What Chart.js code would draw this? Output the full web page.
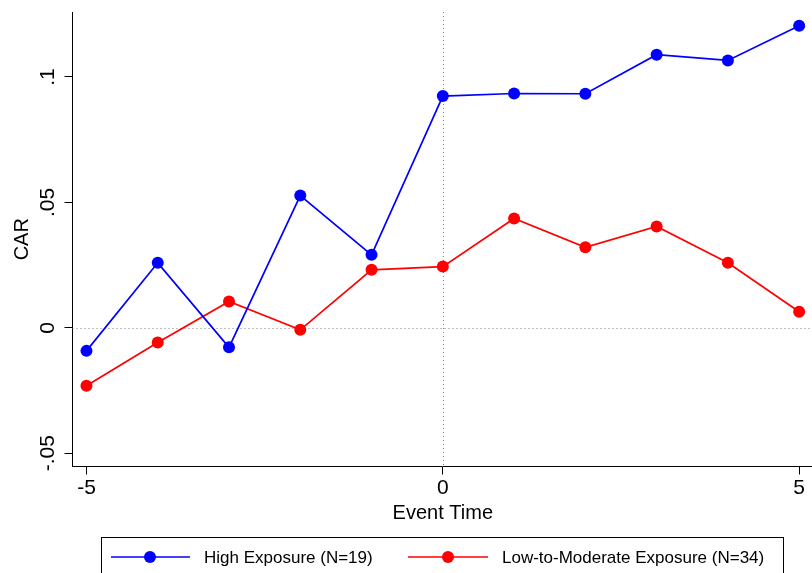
<!DOCTYPE html>
<html>
<head>
<meta charset="utf-8">
<title>CAR by Event Time</title>
<script src="https://cdn.jsdelivr.net/npm/chart.js@4"></script>
<style>
  html, body { margin: 0; padding: 0; background: #fff; }
  #wrap { width: 812px; height: 573px; overflow: hidden; }
  canvas { display: block; }
</style>
</head>
<body>
<div id="wrap"><canvas id="car" width="812" height="573"></canvas></div>
<script>
// Event window and cumulative abnormal returns by exposure group
const eventTime = [-5, -4, -3, -2, -1, 0, 1, 2, 3, 4, 5];
const highExposure = [-0.0092, 0.0259, -0.0078, 0.0527, 0.0291, 0.0924, 0.0934, 0.0933, 0.1089, 0.1066, 0.1204];
const lowModerateExposure = [-0.0231, -0.0059, 0.0105, -0.0008, 0.0231, 0.0244, 0.0436, 0.0321, 0.0404, 0.0259, 0.0064];

const seriesLabels = ['High Exposure (N=19)', 'Low-to-Moderate Exposure (N=34)'];
const xTickValues = [-5, 0, 5];
const yTickValues = [-0.05, 0, 0.05, 0.1];
const yTickLabels = ['-.05', '0', '.05', '.1'];
const xTitle = 'Event Time';
const yTitle = 'CAR';

const FONT = '"Liberation Sans", Arial, Helvetica, sans-serif';
const BLUE = 'rgb(0,0,255)';
const RED = 'rgb(255,0,0)';

const toPoints = vals => eventTime.map((t, i) => ({ x: t, y: vals[i] }));

// Dotted reference lines at event time 0 and CAR = 0
const refLines = {
  id: 'refLines',
  beforeDatasetsDraw(chart) {
    const { ctx, chartArea: a, scales: { x, y } } = chart;
    ctx.save();
    ctx.strokeStyle = '#808080';
    ctx.lineWidth = 1;
    ctx.setLineDash([1, 3]);
    const px = Math.round(x.getPixelForValue(0)) + 0.5;
    const py = Math.round(y.getPixelForValue(0)) + 0.5;
    ctx.beginPath();
    ctx.moveTo(px, a.top); ctx.lineTo(px, a.bottom);
    ctx.moveTo(a.left, py); ctx.lineTo(a.right, py);
    ctx.stroke();
    ctx.restore();
  }
};

// Rotated y tick labels, axis titles and the boxed legend
const annotations = {
  id: 'annotations',
  afterDraw(chart) {
    const { ctx, chartArea: a, scales: { y } } = chart;
    ctx.save();
    ctx.fillStyle = '#000';

    // y tick labels, reading bottom to top
    ctx.font = '21px ' + FONT;
    ctx.textAlign = 'center';
    ctx.textBaseline = 'alphabetic';
    yTickValues.forEach((v, i) => {
      ctx.save();
      ctx.translate(54, y.getPixelForValue(v));
      ctx.rotate(-Math.PI / 2);
      ctx.fillText(yTickLabels[i], 0, 0);
      ctx.restore();
    });

    // axis titles
    ctx.font = '20px ' + FONT;
    ctx.save();
    ctx.translate(28, (a.top + a.bottom) / 2);
    ctx.rotate(-Math.PI / 2);
    ctx.fillText(yTitle, 0, 0);
    ctx.restore();
    ctx.fillText(xTitle, chart.scales.x.getPixelForValue(0), 519);

    // legend
    ctx.strokeStyle = '#000';
    ctx.lineWidth = 1;
    ctx.strokeRect(101.5, 537.5, 682, 60);
    const items = [
      { x0: 111, x1: 190, dot: 150, tx: 204 },
      { x0: 408, x1: 488, dot: 448, tx: 502 }
    ];
    ctx.font = '17px ' + FONT;
    ctx.textAlign = 'left';
    chart.data.datasets.forEach((ds, i) => {
      const it = items[i];
      const ly = 557;
      ctx.strokeStyle = ds.borderColor;
      ctx.lineWidth = 1.6;
      ctx.beginPath();
      ctx.moveTo(it.x0, ly); ctx.lineTo(it.x1, ly);
      ctx.stroke();
      ctx.fillStyle = ds.backgroundColor;
      ctx.beginPath();
      ctx.arc(it.dot, ly, 6, 0, Math.PI * 2);
      ctx.fill();
      ctx.fillStyle = '#000';
      ctx.fillText(ds.label, it.tx, 563);
    });
    ctx.restore();
  }
};

const noEdgePadding = s => {
  s.paddingLeft = 0; s.paddingRight = 0;
  s.paddingTop = 0; s.paddingBottom = 0;
};

new Chart(document.getElementById('car'), {
  type: 'line',
  data: {
    datasets: [
      {
        label: seriesLabels[0],
        data: toPoints(highExposure),
        borderColor: BLUE,
        backgroundColor: BLUE,
        borderWidth: 1.7,
        pointRadius: 6,
        pointBorderWidth: 0,
        pointHoverRadius: 6,
        tension: 0,
        clip: false
      },
      {
        label: seriesLabels[1],
        data: toPoints(lowModerateExposure),
        borderColor: RED,
        backgroundColor: RED,
        borderWidth: 1.7,
        pointRadius: 6,
        pointBorderWidth: 0,
        pointHoverRadius: 6,
        tension: 0,
        clip: false
      }
    ]
  },
  options: {
    responsive: false,
    animation: false,
    devicePixelRatio: 1,
    layout: { autoPadding: false, padding: { top: 12, right: 0, bottom: 0, left: 0 } },
    plugins: {
      legend: { display: false },
      tooltip: { enabled: false }
    },
    scales: {
      x: {
        type: 'linear',
        min: -5.196,
        max: 5.18,
        afterBuildTicks: s => { s.ticks = xTickValues.map(v => ({ value: v })); },
        afterFit: s => { s.height = 106.5; noEdgePadding(s); },
        grid: { drawOnChartArea: false, drawTicks: true, tickLength: 8, color: '#000', tickColor: '#000' },
        border: { display: true, color: '#000', width: 1 },
        ticks: {
          color: '#000',
          font: { family: FONT, size: 21 },
          padding: 1,
          maxRotation: 0,
          autoSkip: false
        }
      },
      y: {
        type: 'linear',
        min: -0.0553,
        max: 0.1259,
        afterBuildTicks: s => { s.ticks = yTickValues.map(v => ({ value: v })); },
        afterFit: s => { s.width = 72.5; noEdgePadding(s); },
        grid: { drawOnChartArea: false, drawTicks: true, tickLength: 8, color: '#000', tickColor: '#000' },
        border: { display: true, color: '#000', width: 1 },
        ticks: { color: 'rgba(0,0,0,0)', font: { family: FONT, size: 21 } }
      }
    }
  },
  plugins: [refLines, annotations]
});
</script>
</body>
</html>
